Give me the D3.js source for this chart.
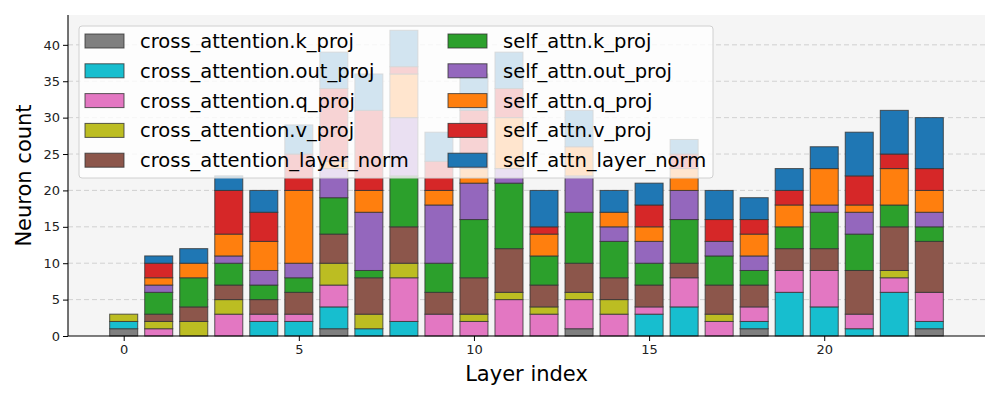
<!DOCTYPE html>
<html><head><meta charset="utf-8">
<script src="https://cdn.jsdelivr.net/npm/d3@7"></script>
<style>body{margin:0;background:#fff;} svg{font-family:"DejaVu Sans",sans-serif;}</style>
</head><body><svg id="c" width="1000" height="400"></svg>
<script>
const layers = d3.range(24);
const seriesNames = ["cross_attention.k_proj","cross_attention.out_proj","cross_attention.q_proj","cross_attention.v_proj","cross_attention_layer_norm","self_attn.k_proj","self_attn.out_proj","self_attn.q_proj","self_attn.v_proj","self_attn_layer_norm"];
const colors = ["#7f7f7f","#17becf","#e377c2","#bcbd22","#8c564b","#2ca02c","#9467bd","#ff7f0e","#d62728","#1f77b4"];
const crossK    = [1,0,0,0,0,0,1,0,0,0,0,0,0,1,0,0,0,0,1,0,0,0,0,1];
const crossOut  = [1,0,0,0,2,2,3,1,2,0,0,0,0,0,0,3,4,0,1,6,4,1,6,1];
const crossQ    = [0,1,0,3,1,1,3,0,6,3,2,5,3,4,3,1,4,2,2,3,5,2,2,4];
const crossV    = [1,1,2,2,0,0,3,2,2,0,1,1,1,1,2,0,0,1,0,0,0,0,1,0];
const crossLN   = [0,1,2,2,2,3,4,5,5,3,5,6,3,4,3,3,2,4,3,3,3,6,6,7];
const selfK     = [0,3,4,3,2,2,5,1,7,4,8,9,4,7,5,3,6,4,2,3,5,5,3,2];
const selfOut   = [0,1,0,1,2,2,4,8,8,8,5,2,0,5,2,3,4,2,2,0,1,3,0,2];
const selfQ     = [0,1,2,3,4,10,1,3,6,2,2,7,3,4,2,2,3,0,3,3,5,1,5,3];
const selfV     = [0,2,0,6,4,5,10,11,1,4,8,4,1,0,0,3,2,3,2,2,0,4,2,3];
const selfLN    = [0,1,2,2,3,4,5,5,5,4,5,5,5,5,3,3,2,4,3,3,3,6,6,7];
const seriesValues = [crossK,crossOut,crossQ,crossV,crossLN,selfK,selfOut,selfQ,selfV,selfLN];
const yTicks = [0,5,10,15,20,25,30,35,40];
const xTicks = [0,5,10,15,20];

const svg = d3.select("#c");
const m = {l:68, r:985, t:15, b:336};
const x = d3.scaleLinear().domain([-1.59, 24.59]).range([m.l, m.r]);
const y = d3.scaleLinear().domain([0, 44.1]).range([m.b, m.t]);

svg.append("rect").attr("x",m.l).attr("y",m.t).attr("width",m.r-m.l).attr("height",m.b-m.t).attr("fill","#f5f5f5");

// grid
svg.append("g").selectAll("line").data(yTicks.slice(1)).join("line")
  .attr("x1",m.l).attr("x2",m.r).attr("y1",d=>y(d)).attr("y2",d=>y(d))
  .attr("stroke","#c8c8c8").attr("stroke-width",0.8).attr("stroke-dasharray","5,3");

const table = layers.map((l,i)=>{const o={layer:l}; seriesNames.forEach((s,j)=>o[s]=seriesValues[j][i]); return o;});
const stack = d3.stack().keys(seriesNames)(table);
const bw = x(0.4)-x(-0.4);
svg.append("g").selectAll("g").data(stack).join("g").attr("fill",(d,i)=>colors[i])
  .selectAll("rect").data(d=>d.filter(p=>p[1]-p[0]>0)).join("rect")
  .attr("x",d=>x(d.data.layer-0.4)).attr("width",bw)
  .attr("y",d=>y(d[1])).attr("height",d=>y(d[0])-y(d[1]))
  .attr("stroke","#333").attr("stroke-opacity",0.8).attr("stroke-width",1);

// axes
const ya = svg.append("g").attr("transform",`translate(${m.l},0)`).call(d3.axisLeft(y).tickValues(yTicks).tickSize(5).tickPadding(3));
const xa = svg.append("g").attr("transform",`translate(0,${m.b})`).call(d3.axisBottom(x).tickValues(xTicks).tickSize(5).tickPadding(4));
[ya,xa].forEach(a=>{a.select(".domain").attr("stroke","#000").attr("stroke-width",1.1); a.selectAll("text").attr("font-size",13).attr("fill","#222").attr("font-family","DejaVu Sans"); a.selectAll(".tick line").attr("stroke","#000");});
ya.select(".domain").attr("d",`M0,${m.b}V${m.t}`);
xa.select(".domain").attr("d",`M${m.l},0H${m.r}`);

svg.append("text").attr("x",(m.l+m.r)/2).attr("y",381).attr("text-anchor","middle").attr("font-size",21).text("Layer index");
svg.append("text").attr("transform",`translate(31,${(m.t+m.b)/2}) rotate(-90)`).attr("text-anchor","middle").attr("font-size",21).text("Neuron count");

// legend
const lg = svg.append("g");
lg.append("rect").attr("x",79).attr("y",26).attr("width",634).attr("height",152).attr("rx",3)
  .attr("fill","#fff").attr("fill-opacity",0.8).attr("stroke","#d0d0d0").attr("stroke-width",1);
seriesNames.forEach((s,i)=>{
  const col = Math.floor(i/5), row = i%5;
  const px = col===0 ? 85 : 448, py = 41 + row*29.8;
  lg.append("rect").attr("x",px).attr("y",py-7).attr("width",39).attr("height",14).attr("fill",colors[i]).attr("stroke","#333").attr("stroke-opacity",0.8);
  lg.append("text").attr("x",px+55).attr("y",py+7).attr("font-size",19.5).attr("fill","#000").text(s);
});
</script></body></html>
